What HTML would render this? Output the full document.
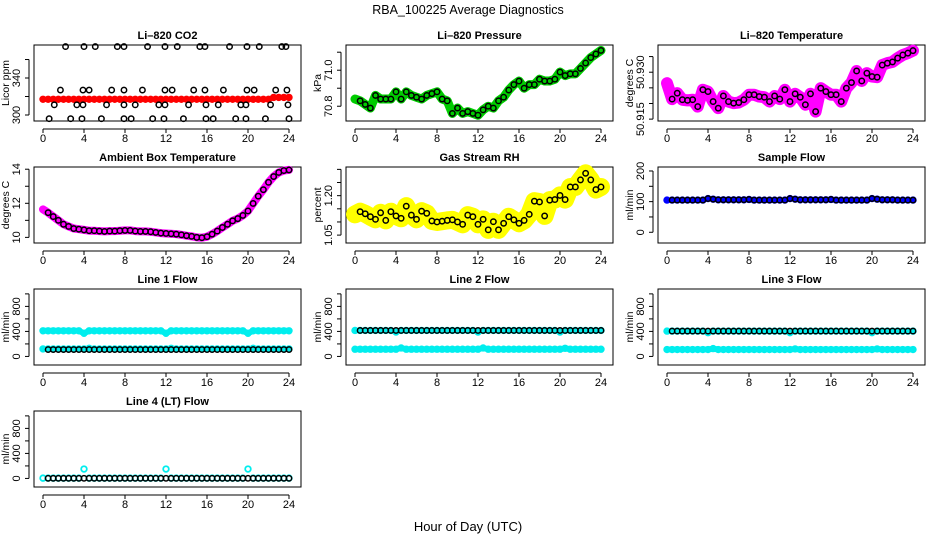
<!DOCTYPE html>
<html><head><meta charset="utf-8"><style>
html,body{margin:0;padding:0;background:#fff;}
svg{display:block;font-family:"Liberation Sans",sans-serif;}
</style></head><body>
<svg id="c" width="936" height="540" viewBox="0 0 936 540">
<text x="468" y="14" text-anchor="middle" font-size="12.5">RBA_100225  Average Diagnostics</text>
<text x="468" y="531" text-anchor="middle" font-size="13">Hour of Day (UTC)</text>
</svg>
<script>
const hours = [0,0.5,1,1.5,2,2.5,3,3.5,4,4.5,5,5.5,6,6.5,7,7.5,8,8.5,9,9.5,10,10.5,11,11.5,12,12.5,13,13.5,14,14.5,15,15.5,16,16.5,17,17.5,18,18.5,19,19.5,20,20.5,21,21.5,22,22.5,23,23.5,24];
const xTicks = [0,4,8,12,16,20,24];

const co2Red = [317,317,317,317,317,317,317,317,317,317,317,317,317,317,317,317,317,317,317,317,317,317,317,317,317,317,317,317,317,317,317,317,317,317,317,317,317,317,317,317,317,317,317,317,317,319,319,319,319];
const co2BlackHours = [2.2,4.0,5.1,7.25,7.9,10.2,11.9,13.1,15.3,15.8,18.2,19.9,21.1,23.3,23.7, 1.7,3.9,4.5,6.7,7.9,9.7,11.9,12.6,14.7,15.8,17.6,19.9,20.6,22.7,23.8, 1.1,3.3,3.9,6.2,7.9,9.0,11.3,11.9,14.2,15.9,17.1,19.3,19.8,22.2,23.9, 0.6,2.7,3.8,5.7,7.9,8.6,10.7,11.8,13.7,15.9,16.6,18.8,19.8,21.7,24.0];
const co2BlackValues = [374,374,374,374,374,374,374,374,374,374,374,374,374,374,374, 327,327,327,327,327,327,327,327,327,327,327,327,327,327,327, 311,311,311,311,311,311,311,311,311,311,311,311,311,311,311, 296,296,296,296,296,296,296,296,296,296,296,296,296,296,296];

const pressure = [70.84,70.83,70.81,70.79,70.86,70.84,70.84,70.84,70.88,70.84,70.88,70.86,70.85,70.84,70.86,70.87,70.88,70.84,70.83,70.76,70.79,70.76,70.77,70.76,70.75,70.78,70.80,70.79,70.83,70.85,70.89,70.92,70.94,70.90,70.92,70.92,70.95,70.94,70.94,70.95,70.99,70.97,70.98,70.98,71.01,71.04,71.07,71.09,71.11];
const licorTemp = [50.9265,50.9214,50.9233,50.9212,50.9210,50.9212,50.9190,50.9244,50.9238,50.9206,50.9185,50.9224,50.9206,50.9201,50.9203,50.9212,50.9228,50.9228,50.9222,50.9220,50.9206,50.9224,50.9214,50.9244,50.9206,50.9231,50.9220,50.9196,50.9231,50.9174,50.9249,50.9238,50.9228,50.9228,50.9206,50.9249,50.9267,50.9304,50.9272,50.9297,50.9286,50.9284,50.9323,50.9329,50.9333,50.9345,50.9355,50.9361,50.9369];
const ambientTemp = [11.64,11.45,11.22,11.00,10.77,10.64,10.52,10.48,10.44,10.39,10.39,10.37,10.35,10.37,10.37,10.39,10.41,10.41,10.37,10.35,10.35,10.33,10.29,10.25,10.23,10.21,10.19,10.15,10.10,10.06,10.00,9.98,10.04,10.19,10.37,10.58,10.77,10.97,11.10,11.29,11.55,11.99,12.42,12.80,13.23,13.57,13.81,13.92,13.96];
const gasRH = [1.129,1.139,1.131,1.120,1.110,1.135,1.106,1.139,1.123,1.114,1.160,1.126,1.110,1.141,1.133,1.104,1.100,1.103,1.106,1.108,1.100,1.091,1.126,1.120,1.091,1.110,1.070,1.101,1.070,1.095,1.120,1.108,1.095,1.106,1.129,1.179,1.176,1.123,1.183,1.185,1.201,1.185,1.233,1.233,1.260,1.285,1.260,1.223,1.233];
const sampleFlow = [105,105,105,105,105,105,105,105,110,108,106,106,106,106,106,106,107,105,105,105,105,105,105,105,110,108,106,106,106,106,106,106,107,105,105,105,105,105,105,105,110,108,106,106,106,105,105,105,105];
const line1High = [410,410,410,410,410,410,410,410,370,410,410,410,410,410,410,410,410,410,410,410,410,410,410,410,370,410,410,410,410,410,410,410,410,410,410,410,410,410,410,410,370,410,410,410,410,410,410,410,410];
const line1Low = [120,120,120,120,120,120,120,120,120,130,120,120,120,120,120,120,120,120,120,120,120,120,120,120,120,130,120,120,120,120,120,120,120,120,120,120,120,120,120,120,120,130,120,120,120,120,120,120,120];
const line1Black = [110,110,110,110,110,110,110,110,110,110,110,110,110,110,110,110,110,110,110,110,110,110,110,110,110,110,110,110,110,110,110,110,110,110,110,110,110,110,110,110,110,110,110,110,110,110,110,110,110];
const line2High = [415,415,415,415,415,415,415,415,390,415,415,415,415,415,415,415,415,415,415,415,415,415,415,415,390,415,415,415,415,415,415,415,415,415,415,415,415,415,415,415,390,415,415,415,415,415,415,415,415];
const line2Low = [115,115,115,115,115,115,115,115,115,135,115,115,115,115,115,115,115,115,115,115,115,115,115,115,115,135,115,115,115,115,115,115,115,115,115,115,115,115,115,115,115,130,115,115,115,115,115,115,115];
const line2Black = [415,415,415,415,415,415,415,415,415,415,415,415,415,415,415,415,415,415,415,415,415,415,415,415,415,415,415,415,415,415,415,415,415,415,415,415,415,415,415,415,415,415,415,415,415,415,415,415,415];
const line3High = [405,405,405,405,405,405,405,405,380,405,405,405,405,405,405,405,405,405,405,405,405,405,405,405,380,405,405,405,405,405,405,405,405,405,405,405,405,405,405,405,380,405,405,405,405,405,405,405,405];
const line3Low = [110,110,110,110,110,110,110,110,110,125,110,110,110,110,110,110,110,110,110,110,110,110,110,110,110,120,110,110,110,110,110,110,110,110,110,110,110,110,110,110,110,120,110,110,110,110,110,110,110];
const line3Black = [405,405,405,405,405,405,405,405,405,405,405,405,405,405,405,405,405,405,405,405,405,405,405,405,405,405,405,405,405,405,405,405,405,405,405,405,405,405,405,405,405,405,405,405,405,405,405,405,405];
const line4Cyan = [5,5,5,5,5,5,5,5,150,5,5,5,5,5,5,5,5,5,5,5,5,5,5,5,150,5,5,5,5,5,5,5,5,5,5,5,5,5,5,5,150,5,5,5,5,5,5,5,5];
const line4Black = [2,2,2,2,2,2,2,2,2,2,2,2,2,2,2,2,2,2,2,2,2,2,2,2,2,2,2,2,2,2,2,2,2,2,2,2,2,2,2,2,2,2,2,2,2,2,2,2,2];

const co2Ticks=[300,320,340,360], co2Labels=[300,340];
const presTicks=[70.8,70.9,71.0,71.1], presLabels=["70.8","71.0"];
const ltTicks=[50.915,50.92,50.925,50.93,50.935], ltLabels=["50.915","50.930"];
const ambTicks=[10,11,12,13,14], ambLabels=[10,12,14];
const rhTicks=[1.05,1.10,1.15,1.20,1.25,1.30], rhLabels=["1.05","1.20"];
const sfTicks=[0,50,100,150,200], sfLabels=[0,100,200];
const lfTicks=[0,200,400,600,800,1000], lfLabels=[0,400,800];

const svg=document.getElementById('c');
const NS='http://www.w3.org/2000/svg';
function mk(tag,attrs,parent){const e=document.createElementNS(NS,tag);for(const k in attrs)e.setAttribute(k,attrs[k]);(parent||svg).appendChild(e);return e;}

function panel(key,title,ylab,c,r,yMin,yMax,ticks,labels){
  const L=34+312*c,R=301+312*c,T=45+122*r,B=121+122*r;
  const g=mk('g',{});
  
  
  const X=h=>43+312*c+h*246/24;
  const Y=v=>B-(v-yMin)/(yMax-yMin)*(B-T);
  const t=mk('text',{x:(L+R)/2,y:T-6,'text-anchor':'middle','font-size':11,'font-weight':'bold'},g);
  t.textContent=title;
  
  
  const xa=mk('g',{},g);
  
  
  mk('line',{x1:X(0),x2:X(24),y1:B+8,y2:B+8,stroke:'#000'},xa);
  xTicks.forEach(v=>{
    mk('line',{x1:X(v),x2:X(v),y1:B+8,y2:B+12,stroke:'#000'},xa);
    const tl=mk('text',{x:X(v),y:B+21,'text-anchor':'middle','font-size':11},xa);
    tl.textContent=v;
    
    
  });
  const ya=mk('g',{},g);
  
  
  mk('line',{x1:L-5,x2:L-5,y1:Y(ticks[0]),y2:Y(ticks[ticks.length-1]),stroke:'#000'},ya);
  ticks.forEach(v=>mk('line',{x1:L-9,x2:L-5,y1:Y(v),y2:Y(v),stroke:'#000'},ya));
  labels.forEach(v=>{
    const y=Y(parseFloat(v));const x=L-14;
    const tl=mk('text',{x:x,y:y,'text-anchor':'middle','font-size':11,transform:`rotate(-90 ${x} ${y})`},ya);
    tl.textContent=v;
    
    
  });
  const yt=mk('text',{x:L-25,y:(T+B)/2,'text-anchor':'middle','font-size':10.5,transform:`rotate(-90 ${L-25} ${(T+B)/2})`},g);
  yt.textContent=ylab;
  
  
  mk('rect',{x:L,y:T,width:R-L,height:B-T,fill:'none',stroke:'#000'},g);
  return {g,X,Y};
}
function band(p,name,vals,color,w){
  const s=mk('g',{},p.g);
  
  
  if(w>0) mk('polyline',{points:vals.map((v,i)=>p.X(hours[i])+','+p.Y(v)).join(' '),fill:'none',stroke:color,'stroke-width':w,'stroke-linejoin':'round','stroke-linecap':'round'},s);
  vals.forEach((v,i)=>mk('circle',{cx:p.X(hours[i]),cy:p.Y(v),r:2.8,fill:'none',stroke:color,'stroke-width':1.8},s));
}
function black(p,name,hs,vals,skipFirst){
  const s=mk('g',{},p.g);
  
  
  vals.forEach((v,i)=>{ if(skipFirst&&i===0)return; mk('circle',{cx:p.X(hs[i]),cy:p.Y(v),r:2.7,fill:'none',stroke:'#000','stroke-width':1.5},s);});
}

let p;
p=panel('co2','Li\u2013820 CO2','Licor ppm',0,0,293.5,375.7,co2Ticks,co2Labels);
band(p,'co2-red-series',co2Red,'#ff0000',5);
black(p,'co2-black-points',co2BlackHours,co2BlackValues,false);

p=panel('pressure','Li\u2013820 Pressure','kPa',1,0,70.718,71.14,presTicks,presLabels);
band(p,'pressure-green-series',pressure,'#00cc00',9);
black(p,'pressure-black-points',hours,pressure,true);

p=panel('licor-temp','Li\u2013820 Temperature','degrees C',2,0,50.9144,50.9387,ltTicks,ltLabels);
band(p,'licor-temp-magenta-series',licorTemp,'#ff00ff',12);
black(p,'licor-temp-black-points',hours,licorTemp,true);

p=panel('ambient','Ambient Box Temperature','degrees C',0,1,9.67,14.13,ambTicks,ambLabels);
band(p,'ambient-magenta-series',ambientTemp,'#ff00ff',8);
black(p,'ambient-black-points',hours,ambientTemp,true);

p=panel('rh','Gas Stream RH','percent',1,1,1.02,1.309,rhTicks,rhLabels);
band(p,'rh-yellow-series',gasRH,'#ffff00',18);
black(p,'rh-black-points',hours,gasRH,true);

p=panel('sample-flow','Sample Flow','ml/min',2,1,-35,213,sfTicks,sfLabels);
band(p,'sample-flow-blue-series',sampleFlow,'#0000ff',5);
black(p,'sample-flow-black-points',hours,sampleFlow,true);

p=panel('line1','Line 1 Flow','ml/min',0,2,-137,1078,lfTicks,lfLabels);
band(p,'line1-cyan-high',line1High,'#00eeee',6);
band(p,'line1-cyan-low',line1Low,'#00eeee',5);
black(p,'line1-black-points',hours,line1Black,true);

p=panel('line2','Line 2 Flow','ml/min',1,2,-137,1078,lfTicks,lfLabels);
band(p,'line2-cyan-high',line2High,'#00eeee',5);
band(p,'line2-cyan-low',line2Low,'#00eeee',6);
black(p,'line2-black-points',hours,line2Black,true);

p=panel('line3','Line 3 Flow','ml/min',2,2,-137,1078,lfTicks,lfLabels);
band(p,'line3-cyan-high',line3High,'#00eeee',5);
band(p,'line3-cyan-low',line3Low,'#00eeee',6);
black(p,'line3-black-points',hours,line3Black,true);

p=panel('line4','Line 4 (LT) Flow','ml/min',0,3,-137,1078,lfTicks,lfLabels);
band(p,'line4-cyan-series',line4Cyan,'#00eeee',0);
black(p,'line4-black-points',hours,line4Black,true);
</script>
</body></html>
